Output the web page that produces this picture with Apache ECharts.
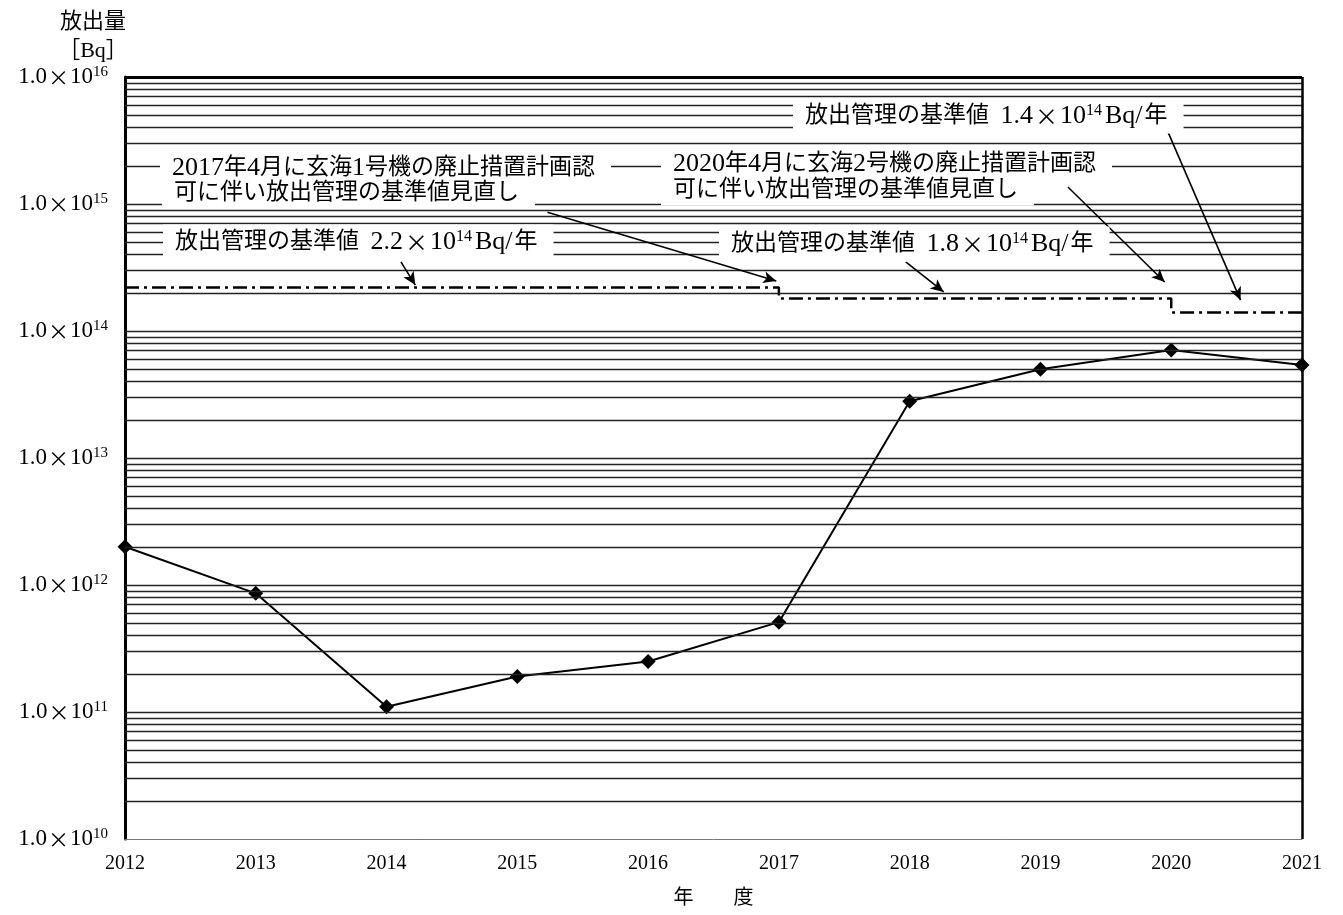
<!DOCTYPE html>
<html><head><meta charset="utf-8">
<script src="https://cdn.jsdelivr.net/npm/echarts@6/dist/echarts.min.js"></script>
<style>html,body{margin:0;padding:0;background:#fff}#c{width:1343px;height:915px}</style>
</head><body><div id="c"></div>
<script>
// ---- data ----
const years = [2012, 2013, 2014, 2015, 2016, 2017, 2018, 2019, 2020, 2021];
const releaseValues = [2.0e12, 8.6e11, 1.1e11, 1.9e11, 2.5e11, 5.1e11, 2.8e13, 5.0e13, 7.1e13, 5.4e13];
const limitYears = [2012, 2017, 2020, 2021];
const limitValues = [2.2e14, 1.8e14, 1.4e14, 1.4e14];
const yExponents = [10, 11, 12, 13, 14, 15, 16];
const xAxisTitle = '年\u3000\u3000度';
const yAxisTitle = ['放出量', '［Bq］'];
// annotation arrows: [startYear, startValue, endYear, endValue]
const arrowLines = [
  [2015.23, 8.6e14, 2016.98, 2.48e14],
  [2014.11, 3.5e14, 2014.22, 2.3e14],
  [2019.21, 1.36e15, 2019.95, 2.43e14],
  [2017.97, 3.5e14, 2018.26, 2.03e14],
  [2019.97, 3.8e15, 2020.53, 1.75e14]
];
const noteTexts = [
  '{n|2017}年{n|4}月に玄海{n|1}号機の廃止措置計画認',
  '可に伴い放出管理の基準値見直し',
  '放出管理の基準値  {n|2.2}{x|×}{n|10}{s|14}{b|Bq/}年',
  '{n|2020}年{n|4}月に玄海{n|2}号機の廃止措置計画認',
  '可に伴い放出管理の基準値見直し',
  '放出管理の基準値  {n|1.8}{x|×}{n|10}{s|14}{b|Bq/}年',
  '放出管理の基準値  {n|1.4}{x|×}{n|10}{s|14}{b|Bq/}年'
];

// ---- layout / style ----
const FONT = "'Liberation Serif','Noto Sans CJK JP',serif";
const CJK = "'Noto Sans CJK JP'";
const notePos = [[172,168],[174,193],[175,242],[673,164],[673,190],[731,244],[805,116]];

const gridValues = [];
for (let e = 10; e < 16; e++) for (let k = 1; k <= 9; k++) { if (e === 10 && k === 1) continue; gridValues.push(k * Math.pow(10, e)); }

const chart = echarts.init(document.getElementById('c'), null, {renderer: 'canvas'});

const noteRich = {
  n: {fontSize: 26, fontFamily: FONT},
  b: {fontSize: 26, fontFamily: FONT, padding: [0, 2, 0, 3]},
  x: {fontSize: 23, fontFamily: CJK, padding: [0, 2, 0, 2]},
  s: {fontSize: 16, fontFamily: FONT, verticalAlign: 'top', lineHeight: 27}
};

const graphics = noteTexts.map((t, i) => ({
  type: 'text', z: 100,
  x: notePos[i][0] - 12, y: notePos[i][1],
  style: {
    text: t, fill: '#000', fontSize: 23, fontFamily: FONT,
    align: 'left', verticalAlign: 'middle',
    backgroundColor: '#fff', padding: [4, 16, 4, 12],
    rich: noteRich
  }
}));
graphics.push({type: 'text', z: 100, x: 93, y: 22, style: {text: yAxisTitle[0], fill: '#000', fontSize: 22, fontFamily: FONT, align: 'center', verticalAlign: 'middle'}});
graphics.push({type: 'text', z: 100, x: 93, y: 51, style: {text: yAxisTitle[1], fill: '#000', fontSize: 22, fontFamily: FONT, align: 'center', verticalAlign: 'middle'}});

const option = {
  animation: false,
  backgroundColor: '#fff',
  grid: {left: 125, right: 41, top: 77, bottom: 76},
  xAxis: {
    type: 'value', min: 2012, max: 2021, interval: 1,
    name: xAxisTitle, nameLocation: 'middle', nameGap: 50,
    nameTextStyle: {fontSize: 20, fontFamily: FONT, color: '#000'},
    axisLine: {show: true, lineStyle: {color: '#777', width: 1}},
    axisTick: {show: false},
    splitLine: {show: false},
    axisLabel: {fontSize: 20, fontFamily: FONT, color: '#000', margin: 15, formatter: v => String(v)}
  },
  yAxis: {
    type: 'log', logBase: 10, min: 1e10, max: 1e16, interval: 1,
    axisLine: {show: true, lineStyle: {color: '#000', width: 3}},
    axisTick: {show: false},
    splitLine: {show: false},
    axisLabel: {
      margin: 17, color: '#000',
      formatter: v => '{a|1.0}{x|×}{a|10}{s|' + Math.round(Math.log10(v)) + '}',
      rich: {
        a: {fontSize: 23, fontFamily: FONT, color: '#000'},
        x: {fontSize: 21, fontFamily: CJK, color: '#000', padding: [0, 1, 0, 1]},
        s: {fontSize: 15, fontFamily: FONT, color: '#000', verticalAlign: 'top', lineHeight: 25}
      }
    }
  },
  graphic: graphics,
  series: [
    {
      type: 'line', data: [], silent: true, z: 1,
      markLine: {
        silent: true, symbol: ['none', 'none'], label: {show: false},
        lineStyle: {color: '#222', width: 1.3, type: 'solid'},
        data: gridValues.map(v => ({yAxis: v}))
          .concat([{yAxis: 1e16, lineStyle: {color: '#000', width: 3, type: 'solid'}},
                   {xAxis: 2021, lineStyle: {color: '#000', width: 2.5, type: 'solid'}}])
      }
    },
    {
      type: 'line', step: 'end', z: 3, symbol: 'none',
      data: limitYears.map((y, i) => [y, limitValues[i]]),
      lineStyle: {color: '#000', width: 2.5, type: [14, 5, 3, 5]}
    },
    {
      type: 'line', z: 4, clip: false,
      data: years.map((y, i) => [y, releaseValues[i]]),
      symbol: 'diamond', symbolSize: 15,
      itemStyle: {color: '#000'},
      lineStyle: {color: '#000', width: 2}
    },
    {
      type: 'line', data: [], z: 5, silent: true,
      markLine: {
        silent: true, symbol: ['none', 'arrow'], symbolSize: [9, 13], label: {show: false},
        lineStyle: {color: '#000', width: 1.6, type: 'solid'},
        data: arrowLines.map(a => [{coord: [a[0], a[1]]}, {coord: [a[2], a[3]]}])
      }
    }
  ]
};
chart.setOption(option);
</script></body></html>
